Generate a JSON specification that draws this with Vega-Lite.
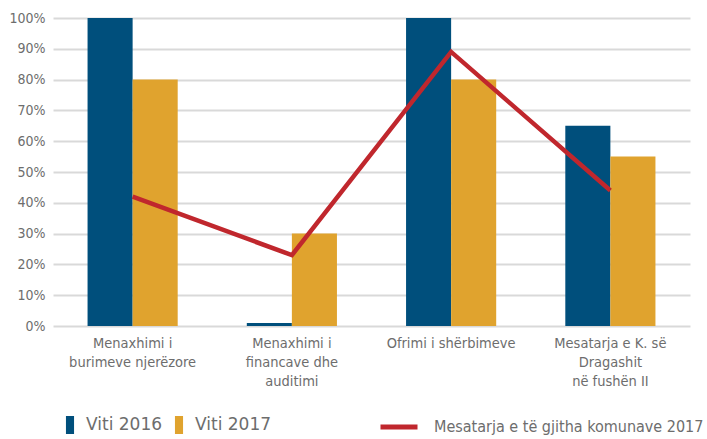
{
  "$schema": "https://vega.github.io/schema/vega-lite/v6.json",
  "width": 637,
  "height": 308,
  "autosize": "none",
  "padding": {"left": 53, "top": 18, "right": 17, "bottom": 113},
  "background": "white",
  "config": {
    "view": {"stroke": null},
    "font": "DejaVu Sans Condensed, Liberation Sans Narrow, sans-serif"
  },
  "datasets": {
    "bars": [
      {"category": "Menaxhimi i burimeve njerëzore", "year": "Viti 2016", "value": 100},
      {"category": "Menaxhimi i burimeve njerëzore", "year": "Viti 2017", "value": 80},
      {"category": "Menaxhimi i financave dhe auditimi", "year": "Viti 2016", "value": 1},
      {"category": "Menaxhimi i financave dhe auditimi", "year": "Viti 2017", "value": 30},
      {"category": "Ofrimi i shërbimeve", "year": "Viti 2016", "value": 100},
      {"category": "Ofrimi i shërbimeve", "year": "Viti 2017", "value": 80},
      {"category": "Mesatarja e K. së Dragashit në fushën II", "year": "Viti 2016", "value": 65},
      {"category": "Mesatarja e K. së Dragashit në fushën II", "year": "Viti 2017", "value": 55}
    ],
    "avg": [
      {"category": "Menaxhimi i burimeve njerëzore", "series": "Mesatarja e të gjitha komunave 2017", "value": 42},
      {"category": "Menaxhimi i financave dhe auditimi", "series": "Mesatarja e të gjitha komunave 2017", "value": 23},
      {"category": "Ofrimi i shërbimeve", "series": "Mesatarja e të gjitha komunave 2017", "value": 89},
      {"category": "Mesatarja e K. së Dragashit në fushën II", "series": "Mesatarja e të gjitha komunave 2017", "value": 44}
    ]
  },
  "encoding": {
    "x": {
      "field": "category",
      "type": "nominal",
      "sort": null,
      "scale": {"paddingInner": 0.434, "paddingOuter": 0.217},
      "axis": {
        "title": null,
        "labelAngle": 0,
        "domain": false,
        "ticks": false,
        "labelPadding": 10,
        "labelFontSize": 14.5,
        "labelColor": "#6d6d6d",
        "labelLineHeight": 19,
        "labelLimit": 200,
        "labelExpr": "datum.value == 'Menaxhimi i burimeve njerëzore' ? ['Menaxhimi i', 'burimeve njerëzore'] : datum.value == 'Menaxhimi i financave dhe auditimi' ? ['Menaxhimi i', 'financave dhe', 'auditimi'] : datum.value == 'Mesatarja e K. së Dragashit në fushën II' ? ['Mesatarja e K. së', 'Dragashit', 'në fushën II'] : datum.value"
      }
    },
    "y": {
      "field": "value",
      "type": "quantitative",
      "scale": {"domain": [0, 100]},
      "axis": {
        "title": null,
        "values": [0, 10, 20, 30, 40, 50, 60, 70, 80, 90, 100],
        "labelExpr": "datum.value + '%'",
        "domain": false,
        "ticks": false,
        "labelPadding": 8,
        "labelFontSize": 14,
        "labelColor": "#6d6d6d",
        "gridColor": "#d9d9d9",
        "gridWidth": 2
      }
    }
  },
  "layer": [
    {
      "data": {"name": "bars"},
      "mark": {"type": "bar"},
      "encoding": {
        "xOffset": {"field": "year", "type": "nominal"},
        "color": {
          "field": "year",
          "type": "nominal",
          "scale": {"domain": ["Viti 2016", "Viti 2017"], "range": ["#004f7c", "#e0a32e"]},
          "legend": {
            "title": null,
            "orient": "none",
            "direction": "horizontal",
            "legendX": 8,
            "legendY": 398,
            "symbolType": "M-0.45,-1V1H0.45V-1Z",
            "symbolSize": 324,
            "symbolStrokeWidth": 0,
            "labelFontSize": 17,
            "labelColor": "#6d6d6d",
            "labelFont": "DejaVu Sans, sans-serif",
            "labelOffset": 7,
            "columnPadding": 7
          }
        }
      }
    },
    {
      "data": {"name": "avg"},
      "mark": {"type": "line", "strokeWidth": 4.5},
      "encoding": {
        "stroke": {
          "field": "series",
          "type": "nominal",
          "scale": {"range": ["#c0272d"]},
          "legend": {
            "title": null,
            "orient": "none",
            "legendX": 325,
            "legendY": 388,
            "symbolType": "stroke",
            "symbolSize": 1369,
            "symbolStrokeWidth": 5,
            "labelFontSize": 16,
            "labelColor": "#6d6d6d",
            "labelOffset": 14,
            "labelLimit": 400
          }
        }
      }
    }
  ]
}
